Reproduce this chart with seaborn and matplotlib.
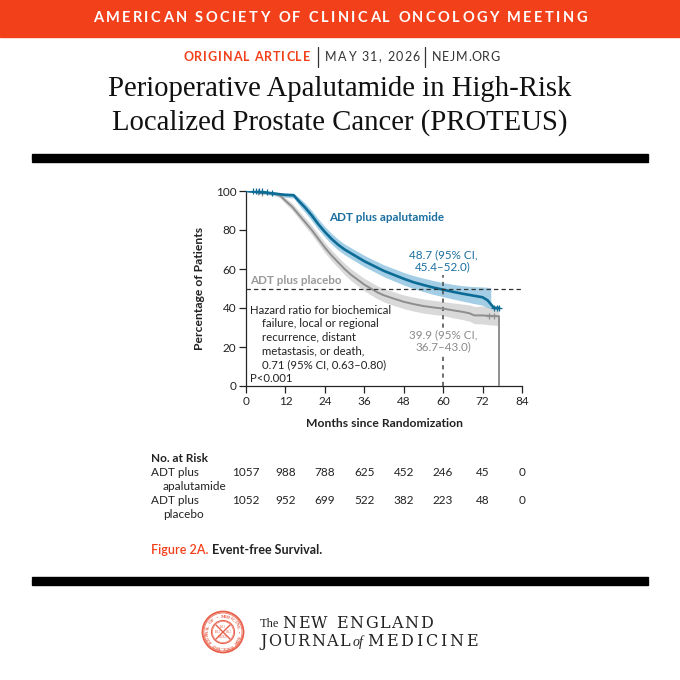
import numpy as np
import pandas as pd
import matplotlib
matplotlib.use("Agg")
import matplotlib.pyplot as plt
import matplotlib.transforms as mtransforms
from matplotlib.patches import Rectangle, Circle
from matplotlib.lines import Line2D
import seaborn as sns

# -------------------- Data --------------------
apa_months = [0, 3, 6, 9, 12, 14.5, 16, 18, 20, 22, 24, 26, 28, 30, 33, 36, 39, 42,
              45, 48, 51, 54, 57, 60, 63, 66, 69, 72, 73.5, 74.5, 75.5, 77]
apa_surv = [100, 99.6, 99.2, 98.6, 98, 97.8, 95, 91.5, 87.5, 83, 79, 75.5, 72.5, 70,
            67, 64, 61.5, 59, 57, 55, 53.2, 51.8, 50.5, 49.4, 48.3, 47.3, 46.4, 45.5,
            44, 42, 40, 40]
apa_lo = [100, 99, 98.4, 97.6, 96.8, 96.4, 93, 89, 84.8, 80.3, 76.4, 72.8, 69.8, 67.3,
          64.2, 61.2, 58.6, 56, 53.9, 51.8, 50, 48.4, 47, 45.8, 44.6, 43.5, 42.4, 41.4,
          40.2, 39.5, np.nan, np.nan]
apa_hi = [100, 100, 99.8, 99.4, 99, 98.9, 96.8, 93.8, 90, 85.7, 81.8, 78.3, 75.3, 72.8,
          69.9, 67, 64.5, 62.1, 60.2, 58.2, 56.6, 55.3, 54.1, 53, 52.1, 51.4, 51, 50.8,
          50.6, 50.5, np.nan, np.nan]

pbo_months = [0, 3, 6, 9, 10.5, 12, 14, 16, 18, 20, 22, 24, 26, 28, 30, 32, 34, 36, 38,
              40, 42, 45, 48, 51, 54, 57, 60, 63, 66, 68, 69.5, 72, 74, 77, 77]
pbo_surv = [100, 99.6, 99, 98.5, 97.5, 95, 92, 88, 84, 80, 75.5, 71, 67, 63.5, 60, 57,
            54.5, 52, 50, 48, 46.5, 44.8, 43.2, 42, 41, 40.3, 39.7, 38.8, 38, 37.3, 36.2,
            36.2, 36, 35.8, 0]
pbo_lo = [100, 99, 98.2, 97.5, 96.3, 93.5, 90.2, 86, 81.8, 77.6, 73, 68.4, 64.3, 60.7,
          57.1, 54, 51.4, 48.8, 46.7, 44.7, 43.1, 41.3, 39.7, 38.4, 37.4, 36.7, 36.1, 35,
          34, 33.2, 32, 31.8, 31.4, 31, np.nan]
pbo_hi = [100, 100, 99.6, 99.3, 98.6, 96.5, 93.8, 90, 86.2, 82.4, 78, 73.6, 69.7, 66.3,
          62.9, 60, 57.6, 55.2, 53.3, 51.3, 49.9, 48.3, 46.7, 45.6, 44.6, 43.9, 43.3,
          42.6, 42, 41.6, 40.8, 41, 41, 41, np.nan]

# censoring marks
apa_cens_x = [2, 3, 4, 5, 6.5, 8, 75.6, 76.3, 77]
apa_cens_y = [100, 100, 100, 100, 99.4, 99, 40, 40, 40]
pbo_cens_x = [3.5, 5, 74, 75.5]
pbo_cens_y = [99.6, 99.2, 36, 35.8]

risk_months = [0, 12, 24, 36, 48, 60, 72, 84]
risk_apa = [1057, 988, 788, 625, 452, 246, 45, 0]
risk_pbo = [1052, 952, 699, 522, 382, 223, 48, 0]

x_ticks = [0, 12, 24, 36, 48, 60, 72, 84]
y_ticks = [0, 20, 40, 60, 80, 100]

# -------------------- Style --------------------
BLUE = "#0d6c96"
BLUE_BAND = "#93c6e1"
BLUE_TXT = "#1a6fa0"
GRAY = "#8e8e8e"
GRAY_BAND = "#d3d3d3"
RED = "#f2401b"
SEAL = "#e8604a"
INK = "#222222"
SANS = ["Lato", "DejaVu Sans"]
SERIF = ["Liberation Serif", "DejaVu Serif"]
WIDE_SERIF = ["DejaVu Serif"]

sns.set_style("ticks")
plt.rcParams["font.family"] = SANS
plt.rcParams["axes.linewidth"] = 0.9

W = H = 680
fig = plt.figure(figsize=(6.8, 6.8), dpi=100)
renderer = fig.canvas.get_renderer()


def fx(x):
    return x / W


def fy(y):
    return 1 - y / H


def char_width(ch, **kw):
    t1 = fig.text(0, 0, "|" + ch + "|", **kw)
    t2 = fig.text(0, 0, "||", **kw)
    w = t1.get_window_extent(renderer).width - t2.get_window_extent(renderer).width
    t1.remove()
    t2.remove()
    return w


def spaced_text(x, y, s, width, ha="left", **kw):
    """Draw s letter-spaced so it covers `width` pixels (x, y in pixels)."""
    ws = [char_width(c, **kw) for c in s]
    track = (width - sum(ws)) / max(len(s) - 1, 1)
    x0 = x - width / 2 if ha == "center" else x
    for c, w in zip(s, ws):
        if c != " ":
            fig.text(fx(x0), fy(y), c, ha="left", va="center", **kw)
        x0 += w + track


# -------------------- Header --------------------
fig.patches.append(Rectangle((0, fy(37)), 1, 37 / H, transform=fig.transFigure,
                             color=RED, zorder=0))
spaced_text(340, 18.5, "AMERICAN SOCIETY OF CLINICAL ONCOLOGY MEETING", 494,
            ha="center", color="white", fontsize=10.5, fontweight="bold")
spaced_text(183, 57, "ORIGINAL ARTICLE", 127, color=RED, fontsize=9,
            fontweight="bold")
spaced_text(325, 57, "MAY 31, 2026", 95, color="#333333", fontsize=9)
spaced_text(432, 57, "NEJM.ORG", 68, color="#333333", fontsize=9)
for xs in (318, 425):
    fig.lines.append(Line2D([fx(xs), fx(xs)], [fy(47), fy(67)],
                            transform=fig.transFigure, color="#333333", lw=0.9))
fig.text(0.5, fy(89), "Perioperative Apalutamide in High-Risk", family=SERIF,
         fontsize=20.7, color="#111111", ha="center", va="center")
fig.text(0.5, fy(123), "Localized Prostate Cancer (PROTEUS)", family=SERIF,
         fontsize=20.7, color="#111111", ha="center", va="center")

# rules
for top, h in [(154, 5.5), (161, 1.2), (576.5, 1.2), (579, 5.5)]:
    fig.patches.append(Rectangle((fx(32), fy(top + h)), fx(648) - fx(32), h / H,
                                 transform=fig.transFigure, color="black"))

# -------------------- KM plot --------------------
ax = fig.add_axes([fx(246), fy(386), fx(522) - fx(246), (386 - 191) / H])

for m, lo, hi, c in [(pbo_months, pbo_lo, pbo_hi, GRAY_BAND),
                     (apa_months, apa_lo, apa_hi, BLUE_BAND)]:
    m = np.array(m, float)
    lo = np.array(lo, float)
    hi = np.array(hi, float)
    ok = ~np.isnan(lo)
    ax.fill_between(m[ok], lo[ok], hi[ok], color=c, alpha=0.85, lw=0, zorder=1)

pbo = pd.DataFrame({"month": pbo_months, "surv": pbo_surv})
apa = pd.DataFrame({"month": apa_months, "surv": apa_surv})
sns.lineplot(data=pbo, x="month", y="surv", sort=False, estimator=None,
             color=GRAY, lw=1.4, ax=ax, zorder=3)
sns.lineplot(data=apa, x="month", y="surv", sort=False, estimator=None,
             color=BLUE, lw=1.9, ax=ax, zorder=4)
sns.scatterplot(x=pbo_cens_x, y=pbo_cens_y, marker="+", color=GRAY, s=22,
                linewidth=0.9, ax=ax, zorder=3, clip_on=False)
sns.scatterplot(x=apa_cens_x, y=apa_cens_y, marker="+", color=BLUE, s=22,
                linewidth=0.9, ax=ax, zorder=4, clip_on=False)

# reference lines
ax.plot([0, 84], [50, 50], ls=(0, (3.5, 2.5)), color="#333333", lw=0.9, zorder=5)
ax.plot([60, 60], [0, 57], ls=(0, (2.5, 2.5)), color="#555555", lw=1.2, zorder=2)

ax.set_xlim(0, 84)
ax.set_ylim(0, 100)
ax.set_xticks(x_ticks)
ax.set_yticks(y_ticks)
ax.tick_params(labelsize=8.5, length=5, width=0.9, colors=INK, pad=2)
sns.despine(ax=ax)
ax.set_xlabel("Months since Randomization", fontsize=8.7, fontweight="bold",
              color=INK, labelpad=8)
ax.set_ylabel("Percentage of Patients", fontsize=8.7, fontweight="bold",
              color=INK, labelpad=8)

# annotations
ax.text(25.3, 86.3, "ADT plus apalutamide", color=BLUE_TXT, fontsize=8.4,
        fontweight="bold", va="center")
ax.text(1.3, 54.2, "ADT plus placebo", color="#9a9a9a", fontsize=8.4,
        fontweight="bold", va="center")
ax.text(60, 64.3, "48.7 (95% CI,\n45.4\u201352.0)", color=BLUE_TXT, fontsize=8.4,
        ha="center", va="center", linespacing=1.15)
ax.text(60, 23.2, "39.9 (95% CI,\n36.7\u201343.0)", color="#8a8a8a", fontsize=8.4,
        ha="center", va="center", linespacing=1.15,
        bbox=dict(facecolor="white", edgecolor="none", pad=0.5), zorder=6)
ax.text(1.3, 38.5, "Hazard ratio for biochemical", fontsize=8.2, color=INK,
        va="center")
hr_lines = ["failure, local or regional", "recurrence, distant",
            "metastasis, or death,", "0.71 (95% CI, 0.63\u20130.80)"]
for line, yy in zip(hr_lines, [32.0, 25.0, 18.2, 11.0]):
    ax.text(4.9, yy, line, fontsize=8.2, color=INK, va="center")
ax.text(1.3, 3.9, "P<0.001", fontsize=8.2, color=INK, va="center")

# -------------------- Number at risk --------------------
trans = mtransforms.blended_transform_factory(ax.transData, fig.transFigure)
fig.text(fx(151), fy(458), "No. at Risk", fontsize=8.5, fontweight="bold",
         color=INK, va="center")
fig.text(fx(151), fy(472.5), "ADT plus", fontsize=8.5, color=INK, va="center")
fig.text(fx(163), fy(486.5), "apalutamide", fontsize=8.5, color=INK, va="center")
fig.text(fx(151), fy(500.5), "ADT plus", fontsize=8.5, color=INK, va="center")
fig.text(fx(163), fy(514.5), "placebo", fontsize=8.5, color=INK, va="center")
for m, a, p in zip(risk_months, risk_apa, risk_pbo):
    ax.text(m, fy(472.5), str(a), transform=trans, fontsize=8.5, color=INK,
            ha="center", va="center", clip_on=False)
    ax.text(m, fy(500.5), str(p), transform=trans, fontsize=8.5, color=INK,
            ha="center", va="center", clip_on=False)

fig.text(fx(151), fy(550), "Figure 2A.", fontsize=9, color=RED,
         fontweight="semibold", va="center")
fig.text(fx(212), fy(550), "Event-free Survival.", fontsize=9, fontweight="bold",
         color=INK, va="center")

# -------------------- Footer logo --------------------
scx, scy = 223, 632
for r, lw in [(20.5, 1.3), (19.0, 0.5), (11.5, 0.8), (10.5, 0.4)]:
    fig.patches.append(Circle((scx, H - scy), r, transform=None, fill=False,
                              edgecolor=SEAL, lw=lw))
ring = "MEDICINE \u2022 NEW ENGLAND JOURNAL OF \u2022 "
for i, ch in enumerate(ring):
    ang = np.pi / 2 + 2 * np.pi * i / len(ring)
    px_, py_ = scx - 15.3 * np.cos(ang), scy - 15.3 * np.sin(ang)
    fig.text(fx(px_), fy(py_), ch, fontsize=3.4, color=SEAL, ha="center",
             va="center", rotation=np.degrees(-ang) + 90,
             family=SERIF, fontweight="bold")
for d in (1, -1):
    fig.lines.append(Line2D([fx(scx - 7), fx(scx + 7)],
                            [fy(scy - 7 * d), fy(scy + 7 * d)],
                            transform=fig.transFigure, color=SEAL, lw=1.0))
for dx, dy, s in [(0, -5.5, "1812"), (-5.5, 0, "1812"), (5.5, 0, "2012"), (0, 5.5, "MMXII")]:
    fig.text(fx(scx + dx), fy(scy + dy), s, fontsize=2.2, color=SEAL,
             ha="center", va="center", family=SERIF)

fig.text(fx(260), fy(624), "The", family=SERIF, fontsize=9, color=INK,
         va="center")
spaced_text(282, 623, "NEW ENGLAND", 151, family=WIDE_SERIF, fontsize=11.5,
            color=INK)
spaced_text(260, 641, "JOURNAL", 90, family=WIDE_SERIF, fontsize=11.5, color=INK)
fig.text(fx(353), fy(642), "of", family=SERIF, fontsize=10, color=INK,
         va="center", style="italic")
spaced_text(367, 641, "MEDICINE", 111, family=WIDE_SERIF, fontsize=11.5,
            color=INK)

fig.savefig("out.png", dpi=100)
